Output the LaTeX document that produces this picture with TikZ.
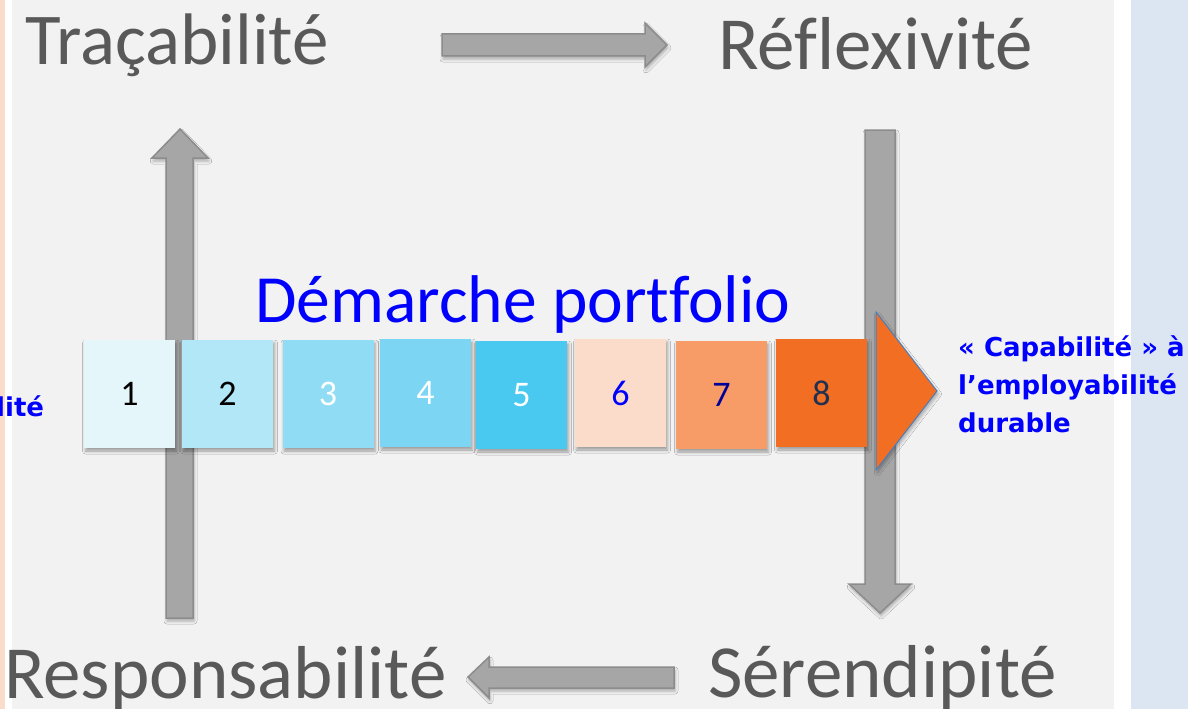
\documentclass[tikz,border=0pt]{standalone}
\usepackage{fontspec}
\setmainfont{Carlito}[Ligatures=NoCommon]
\newfontfamily\dejav{DejaVu Sans}
\usetikzlibrary{shadows.blur}
\definecolor{bg}{HTML}{F2F2F2}
\definecolor{peach}{HTML}{FBDCCB}
\definecolor{lblue}{HTML}{DCE6F2}
\definecolor{agray}{HTML}{A6A6A6}
\definecolor{aedge}{HTML}{8C8C8C}
\definecolor{tgray}{HTML}{595959}
\definecolor{c1}{HTML}{E5F6FB}
\definecolor{c2}{HTML}{B2E7F8}
\definecolor{c3}{HTML}{91DCF5}
\definecolor{c4}{HTML}{7BD5F3}
\definecolor{c5}{HTML}{4AC9F0}
\definecolor{c6}{HTML}{FBDCCB}
\definecolor{c7}{HTML}{F79B67}
\definecolor{c8}{HTML}{F26E22}
\definecolor{n7}{HTML}{000099}
\definecolor{n8}{HTML}{1F3050}
\definecolor{triedge}{HTML}{4A7EBB}
\definecolor{pblue}{HTML}{0000FF}
\tikzset{
  garrow/.style={fill=agray, draw=aedge, line width=1.5pt, line join=miter,
    blur shadow={shadow xshift=1pt, shadow yshift=-3pt, shadow blur radius=3pt, shadow opacity=30}},
  numbox/.style={minimum width=91pt, minimum height=108pt, inner sep=0pt, draw=none,
    font=\fontsize{36}{40}\selectfont,
    blur shadow={shadow xshift=1.5pt, shadow yshift=-3pt, shadow blur radius=3pt, shadow opacity=35}},
  bigtext/.style={anchor=base west, inner sep=0pt, text=tgray, font=\fontsize{75}{80}\selectfont},
  captext/.style={anchor=base west, inner sep=0pt, text=pblue, font=\dejav\bfseries\fontsize{26}{30}\selectfont}
}
\begin{document}
\begin{tikzpicture}[x=1pt,y=-1pt]
\useasboundingbox (0,0) rectangle (1188,709);
\fill[peach] (0,0) rectangle (5,709);
\fill[white] (5,0) rectangle (12,709);
\fill[bg] (12,0) rectangle (1114,709);
\fill[white] (1114,0) rectangle (1131,709);
\fill[lblue] (1131,0) rectangle (1188,709);

% texts
\node[bigtext, font=\fontsize{73}{80}\selectfont] (trac) at (25,65) {Traçabilité};
\node[bigtext] (refl) at (718,70) {Réflexivité};
\node[bigtext] (resp) at (4,698) {Responsabilité};
\node[bigtext] (sere) at (708,697) {Sérendipité};

% block arrows
\draw[garrow] (442,34) -- (645,34) -- (645,23) -- (667,45) -- (645,67) -- (645,56) -- (442,56) -- cycle;
\draw[garrow] (166,618) -- (166,158) -- (152,158) -- (180,129) -- (208,158) -- (193,158) -- (193,618) -- cycle;
\draw[garrow] (865,130) -- (895,130) -- (895,584) -- (911,584) -- (880,613) -- (849,584) -- (865,584) -- cycle;
\draw[garrow] (674,667) -- (489,667) -- (489,657) -- (468,677) -- (489,698) -- (489,688) -- (674,688) -- cycle;

% title
\node[anchor=base west, inner sep=0pt, text=pblue, font=\fontsize{67.5}{72}\selectfont] (dem) at (255,322) {Démarche portfolio};

% boxes
\node[numbox, fill=c1, text=black] (b1) at (129.5,394) {1};
\node[numbox, fill=c2, text=black] (b2) at (227.5,394) {2};
\node[numbox, fill=c3, text=white] (b3) at (328,394) {3};
\node[numbox, fill=c4, text=white] (b4) at (425.5,393) {4};
\node[numbox, fill=c5, text=white] (b5) at (521.5,395) {5};
\node[numbox, fill=c6, text=pblue] (b6) at (620.5,393) {6};
\node[numbox, fill=c7, text=n7] (b7) at (721.5,395) {7};
\node[numbox, fill=c8, text=n8] (b8) at (821.5,393) {8};

% big orange arrow head
\draw[fill=c8, draw=triedge, line width=1pt,
  blur shadow={shadow xshift=1.5pt, shadow yshift=-3pt, shadow blur radius=3pt, shadow opacity=30}]
  (876,312) -- (937,391) -- (876,470) -- cycle;

% capability text
\node[captext] (cap1) at (958,356) {« Capabilité » à};
\node[captext] (cap2) at (958,394) {l’employabilité};
\node[captext] (cap3) at (958,432) {durable};
\node[captext] (lite) at (-4,416) {lité};
\end{tikzpicture}
\end{document}
